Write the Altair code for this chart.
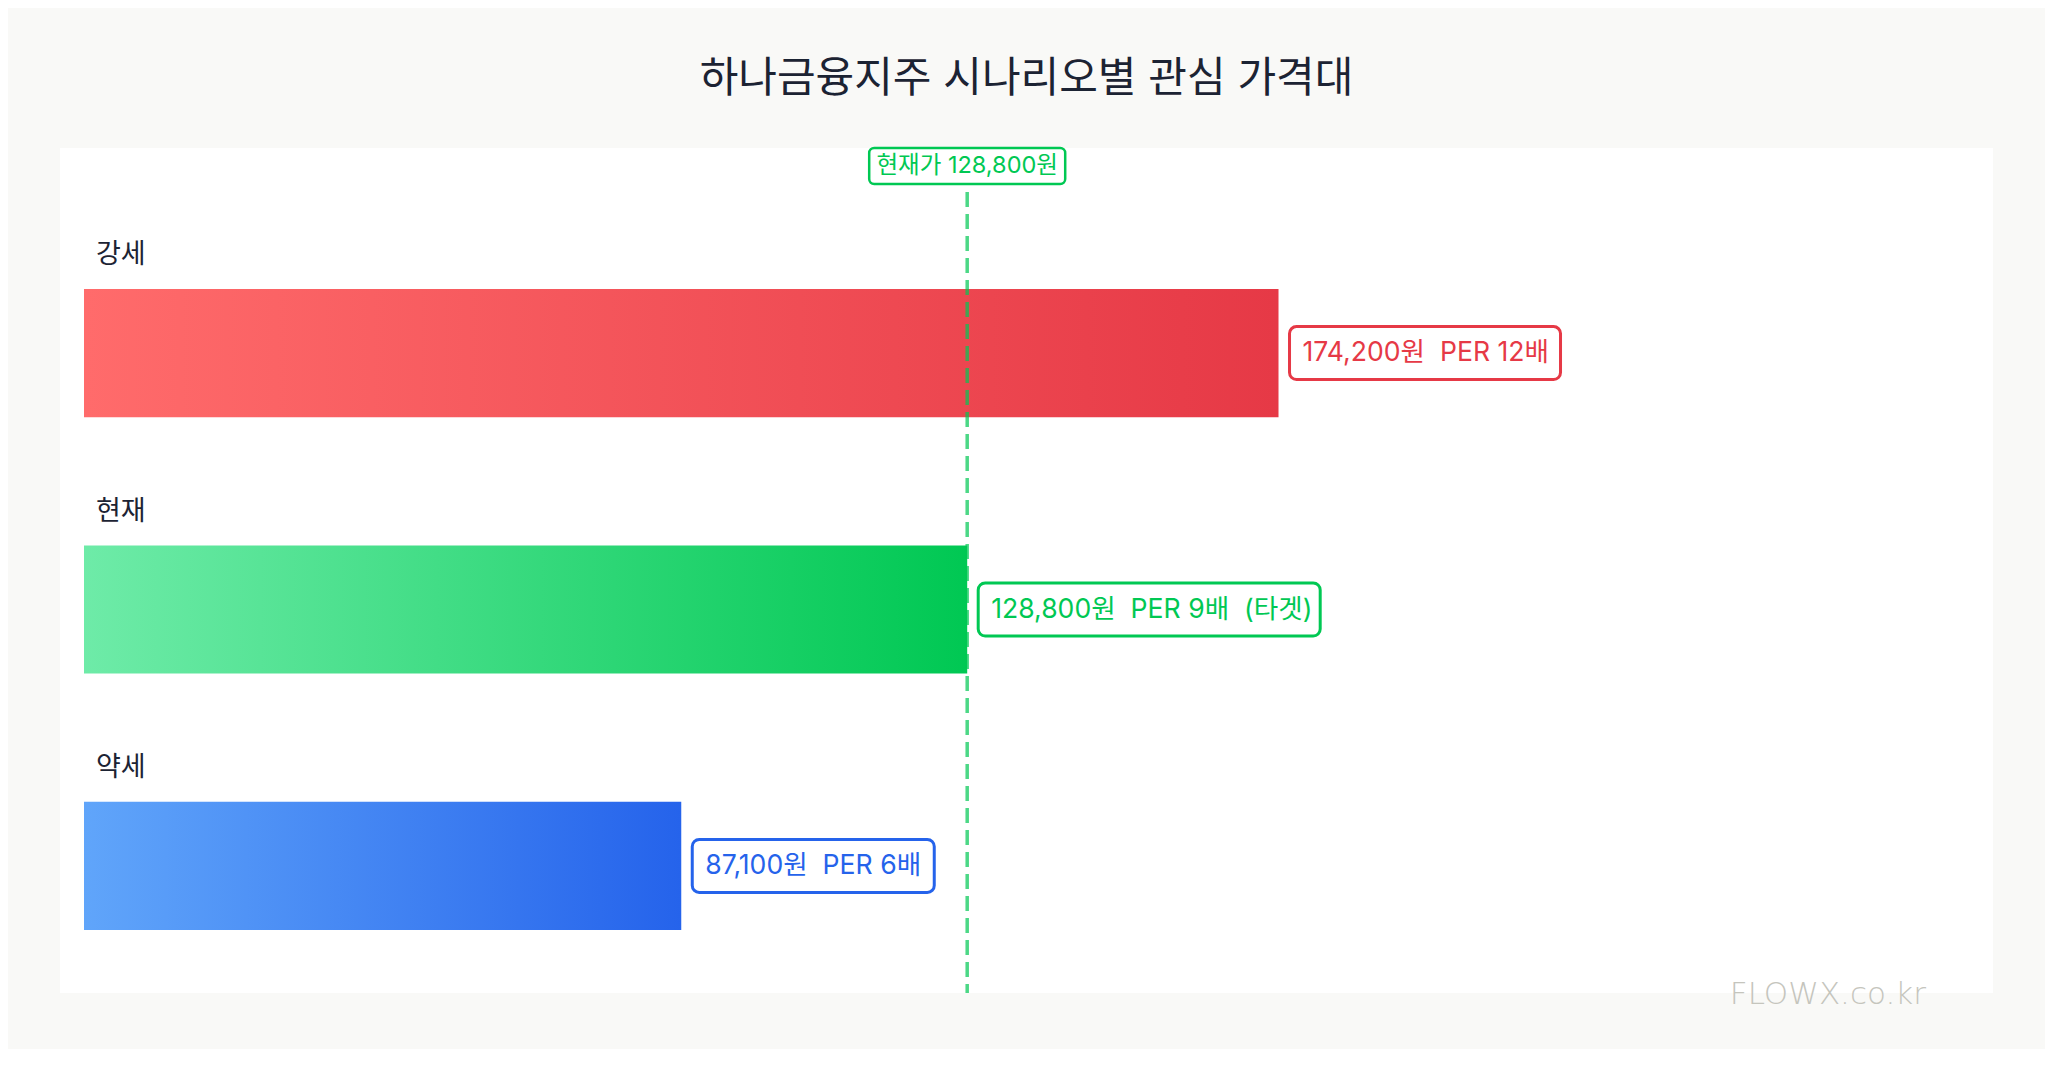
import altair as alt
import pandas as pd

# ---- data ----
scenarios = ["강세", "현재", "약세"]
prices = [174200, 128800, 87100]
pers = [12, 9, 6]
notes = ["", "\u00a0\u00a0(타겟)", ""]
current_price = 128800
current_label = "현재가 128,800원"
title_text = "하나금융지주 시나리오별 관심 가격대"
watermark = "FLOWX.co.kr"

FONT = "Inter, Noto Sans CJK KR"
bar_stops = [("#FF6B6B", "#E63946"), ("#6EEBA8", "#00C853"), ("#60A5FA", "#2563EB")]
text_colors = ["#E63946", "#00C853", "#2563EB"]
box_widths = [271, 342, 242]

df = pd.DataFrame({
    "scenario": scenarios,
    "price": prices,
    "label": [f"{p:,}원\u00a0\u00a0PER {e}배{n}" for p, e, n in zip(prices, pers, notes)],
})
cur_df = pd.DataFrame({"price": [current_price], "label": [current_label]})

xscale = alt.Scale(domain=[0, 280000], range=[24, 1944])
yscale = alt.Scale(domain=scenarios, range=[141, 782], paddingInner=0.5, paddingOuter=0)

def X(**kw):
    return alt.X("price:Q", scale=xscale, axis=None, **kw)

def Y():
    return alt.Y("scenario:N", scale=yscale, axis=None)

base = alt.Chart(df)
layers = []

# gradient bars
for i, s in enumerate(scenarios):
    c0, c1 = bar_stops[i]
    grad = alt.LinearGradient(
        gradient="linear",
        stops=[alt.GradientStop(color=c0, offset=0), alt.GradientStop(color=c1, offset=1)],
        x1=0, x2=1, y1=0, y2=0,
    )
    layers.append(
        base.transform_filter(alt.datum.scenario == s)
        .mark_bar(color=grad)
        .encode(x=X(), y=Y())
    )

# current price dashed rule
rule = alt.Chart(cur_df).mark_rule(
    color="#00C853", opacity=0.7, strokeWidth=3.5, strokeDash=[15, 7]
).encode(x=X())
layers.append(rule)

# value label boxes + texts
for i, s in enumerate(scenarios):
    sub = base.transform_filter(alt.datum.scenario == s)
    layers.append(
        sub.mark_bar(
            height=53, fill="white", stroke=text_colors[i], strokeWidth=3,
            cornerRadius=7, xOffset=11, x2Offset=11 + box_widths[i],
        ).encode(x=X(), x2="price:Q", y=Y())
    )
    layers.append(
        sub.mark_text(
            align="left", baseline="middle", font=FONT, fontSize=26.6,
            color=text_colors[i], xOffset=24,
        ).encode(x=X(), y=Y(), text="label:N")
    )

# category labels
layers.append(
    base.mark_text(
        align="left", baseline="middle", font=FONT, fontSize=27,
        color="#1C2333", yOffset=-98,
    ).encode(x=alt.value(36), y=Y(), text="scenario:N")
)

# top current price box + text
layers.append(
    alt.Chart(cur_df).mark_rect(
        fill="white", stroke="#00C853", strokeWidth=2.5, cornerRadius=5,
        xOffset=-98, x2Offset=98,
    ).encode(x=X(), x2="price:Q", y=alt.value(0), y2=alt.value(36))
)
layers.append(
    alt.Chart(cur_df).mark_text(
        align="center", baseline="middle", font=FONT, fontSize=23.5, color="#00C853",
    ).encode(x=X(), y=alt.value(18), text="label:N")
)

# watermark
layers.append(
    alt.Chart(pd.DataFrame({"t": [watermark]})).mark_text(
        align="right", baseline="middle", font="DejaVu Sans", fontSize=31,
        fontWeight=300, color="#C5C5BD", clip=False,
    ).encode(x=alt.value(1866), y=alt.value(847), text="t:N")
)

chart = alt.layer(*layers).properties(
    width=1933,
    height=845,
    autosize=alt.AutoSizeParams(type="none"),
    padding={"left": 52, "top": 140, "right": 52, "bottom": 56},
    background="#F9F9F7",
    title=alt.TitleParams(
        title_text, font=FONT, fontSize=42, fontWeight="normal",
        color="#1C2333", anchor="middle", offset=45,
    ),
).configure_view(stroke=None, fill="white")

chart.save("out.html", embed_options={"renderer": "svg", "actions": False})
